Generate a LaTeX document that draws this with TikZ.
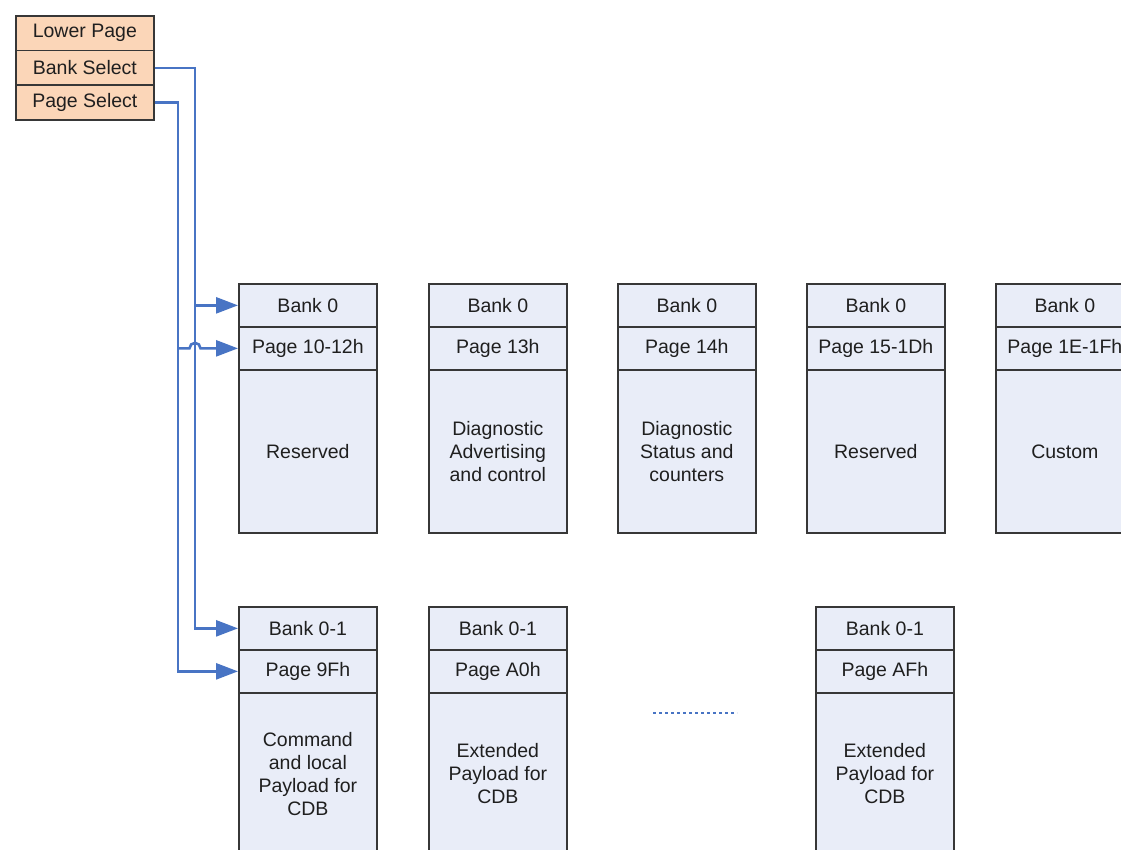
\documentclass[tikz,border=0pt]{standalone}
\usepackage{fontspec}
\setmainfont{Liberation Sans}
\usetikzlibrary{arrows.meta}
\definecolor{peach}{RGB}{251,214,184}
\definecolor{cellblue}{RGB}{233,237,248}
\definecolor{wire}{RGB}{72,116,196}
\definecolor{edgec}{RGB}{55,55,55}
\begin{document}
\begin{tikzpicture}[x=1pt,y=-1pt,
  cell/.style={draw=edgec, line width=1.7pt, fill=cellblue, minimum width=138pt,
    inner sep=0pt, anchor=north west, font=\fontsize{19.5}{23}\selectfont, align=center, text=black!88},
  rowcell/.style={cell, minimum height=43pt},
  selcell/.style={cell, fill=peach, minimum height=34.7pt},
  wireline/.style={draw=wire, line width=2.6pt},
  tip/.style={-{Triangle[length=22pt,width=16pt]}}
]
\useasboundingbox (0,0) rectangle (1121,849);
\fill[white] (0,0) rectangle (1121,849);
\clip (0,0) rectangle (1121,849);

% selector stack
\node[selcell] (lp) at (15,15) {Lower Page};
\node[selcell] (bs) at (15,49.7) {Bank Select};
\node[selcell] (ps) at (15,84.4) {Page Select};

% top row
\foreach \i/\x/\pg/\body in {
  1/238/{Page 10-12h}/{Reserved},
  2/428/{Page 13h}/{Diagnostic\\Advertising\\and control},
  3/617/{Page 14h}/{Diagnostic\\Status and\\counters},
  4/806/{Page 15-1Dh}/{Reserved},
  5/995/{Page 1E-1Fh}/{Custom}}{
  \node[rowcell] (t\i-bank) at (\x,283) {Bank 0};
  \node[rowcell] (t\i-page) at (\x,326) {\pg};
  \node[cell, minimum height=163pt] (t\i-main) at (\x,369) {\body};
}

% bottom row
\foreach \i/\x/\pg/\body in {
  1/238/{Page 9Fh}/{Command\\and local\\Payload for\\CDB},
  2/428/{Page A0h}/{Extended\\Payload for\\CDB},
  3/815/{Page AFh}/{Extended\\Payload for\\CDB}}{
  \node[rowcell] (b\i-bank) at (\x,606) {Bank 0-1};
  \node[rowcell] (b\i-page) at (\x,649) {\pg};
  \node[cell, minimum height=162pt] (b\i-main) at (\x,692) {\body};
}

% bus coordinates
\coordinate (busA) at (195,0);
\coordinate (busB) at (178,0);

% Bank Select bus
\draw[wireline, tip] (bs.east) -- (bs.east -| busA) -- (busA |- b1-bank.west) -- (b1-bank.west);
\draw[wireline, tip] (busA |- t1-bank.west) -- (t1-bank.west);

% Page Select bus
\draw[wireline, tip] (ps.east) -- (ps.east -| busB) -- (busB |- b1-page.west) -- (b1-page.west);
\draw[wireline, tip] (busB |- t1-page.west) -- ([xshift=-5.5pt]busA |- t1-page.west)
   arc[start angle=180, end angle=0, radius=5.5pt] -- (t1-page.west);

% ellipsis
\draw[draw=wire, line width=2.2pt, dash pattern=on 3pt off 3pt] (653,713) -- (737,713);
\end{tikzpicture}
\end{document}
